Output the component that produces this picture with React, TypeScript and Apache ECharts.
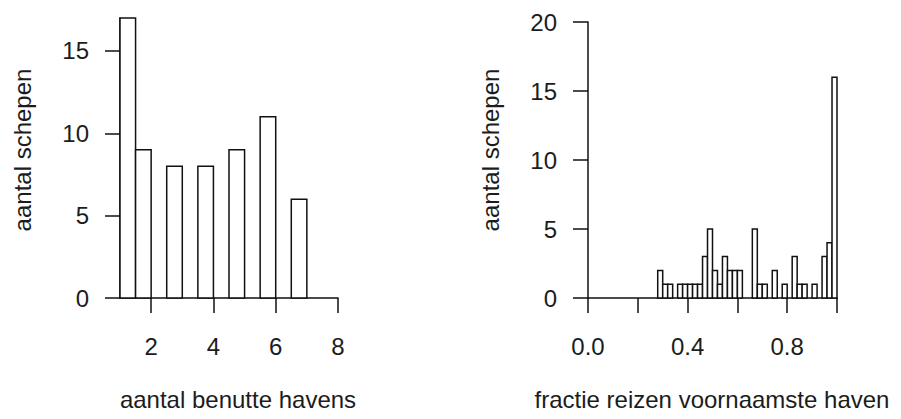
import React, { useEffect, useRef } from "react";
import * as echarts from "echarts";

// Histogram 1: number of ports used per ship (bins of width 0.5)
const havenBinStart = [1, 1.5, 2.5, 3.5, 4.5, 5.5, 6.5];
const havenBinEnd = [1.5, 2, 3, 4, 5, 6, 7];
const havenCounts = [17, 9, 8, 8, 9, 11, 6];
const havenTicks = [2, 4, 6, 8];
const havenYTicks = [0, 5, 10, 15];

// Histogram 2: share of voyages to the main port (bins of width 0.02, from 0.28)
const fractieFirstBin = 0.28;
const fractieBinWidth = 0.02;
const fractieCounts = [
  2, 1, 1, 0, 1, 1, 1, 1, 1, 3, 5, 2, 1, 3, 2, 2, 2, 0, 0, 5, 1, 1, 0, 2, 0, 1,
  0, 3, 1, 1, 0, 1, 0, 3, 4, 16,
];
const fractieTicks = [0, 0.2, 0.4, 0.6, 0.8, 1.0];
const fractieLabels = [0, 0.4, 0.8];
const fractieYTicks = [0, 5, 10, 15, 20];

const FONT = "'Liberation Sans', Arial, Helvetica, sans-serif";
const INK = "#111";
const TEXT = "#1c1c1c";

const havenData = havenCounts.map((c, i) => [havenBinStart[i], havenBinEnd[i], c]);
const fractieData = fractieCounts.map((c, i) => {
  const lo = Math.round((fractieFirstBin + i * fractieBinWidth) * 100) / 100;
  const hi = Math.round((lo + fractieBinWidth) * 100) / 100;
  return [lo, hi, c];
});

const renderBin = (_params: any, api: any) => {
  const c = api.value(2);
  if (!c) return null;
  const p0 = api.coord([api.value(0), c]);
  const p1 = api.coord([api.value(1), 0]);
  return {
    type: "rect",
    shape: { x: p0[0], y: p0[1], width: p1[0] - p0[0], height: p1[1] - p0[1] },
    style: { fill: "#fff", stroke: INK, lineWidth: 1.5 },
  };
};

const axisLineStyle = { color: INK, width: 1.5 };

const makeX = (gridIndex: number, min: number, max: number, ticks: number[], labels: number[], fmt: (v: number) => string) => ({
  type: "value",
  gridIndex,
  min,
  max,
  axisLine: { show: true, onZero: false, lineStyle: axisLineStyle },
  axisTick: { show: true, length: 15, customValues: ticks, lineStyle: axisLineStyle },
  axisLabel: {
    customValues: labels,
    margin: 36,
    fontSize: 24,
    fontFamily: FONT,
    color: TEXT,
    formatter: (v: number) => fmt(v),
  },
  splitLine: { show: false },
});

const makeY = (gridIndex: number, max: number, ticks: number[]) => ({
  type: "value",
  gridIndex,
  min: 0,
  max,
  axisLine: { show: true, onZero: false, lineStyle: axisLineStyle },
  axisTick: { show: true, length: 15, customValues: ticks, lineStyle: axisLineStyle },
  axisLabel: {
    customValues: ticks,
    margin: 31,
    fontSize: 24,
    fontFamily: FONT,
    color: TEXT,
  },
  splitLine: { show: false },
});

const titleText = (text: string, x: number, y: number, rotate = false) => ({
  type: "text",
  x,
  y,
  rotation: rotate ? Math.PI / 2 : 0,
  style: {
    text,
    font: `24px ${FONT}`,
    fill: TEXT,
    align: "center",
    verticalAlign: "middle",
  },
});

export default function App() {
  const ref = useRef<HTMLDivElement>(null);

  useEffect(() => {
    if (!ref.current) return;
    const chart = echarts.init(ref.current, undefined, { renderer: "svg" });
    chart.setOption({
      animation: false,
      backgroundColor: "#fff",
      grid: [
        { left: 120, top: 18, width: 218, height: 280 },
        { left: 588, top: 22, width: 249, height: 276 },
      ],
      xAxis: [
        makeX(0, 1, 8, havenTicks, havenTicks, (v) => String(v)),
        makeX(1, 0, 1, fractieTicks, fractieLabels, (v) => v.toFixed(1)),
      ],
      yAxis: [makeY(0, 17, havenYTicks), makeY(1, 20, fractieYTicks)],
      series: [
        {
          type: "custom",
          xAxisIndex: 0,
          yAxisIndex: 0,
          renderItem: renderBin,
          encode: { x: [0, 1], y: 2 },
          data: havenData,
          z: 1,
        },
        {
          type: "custom",
          xAxisIndex: 1,
          yAxisIndex: 1,
          renderItem: renderBin,
          encode: { x: [0, 1], y: 2 },
          data: fractieData,
          z: 1,
        },
      ],
      graphic: [
        titleText("aantal benutte havens", 238, 399),
        titleText("fractie reizen voornaamste haven", 712, 399),
        titleText("aantal schepen", 22, 150, true),
        titleText("aantal schepen", 490, 150, true),
      ],
    });
    return () => chart.dispose();
  }, []);

  return (
    <div
      ref={ref}
      style={{ position: "fixed", left: 0, top: 0, width: 901, height: 419, background: "#fff" }}
    />
  );
}
